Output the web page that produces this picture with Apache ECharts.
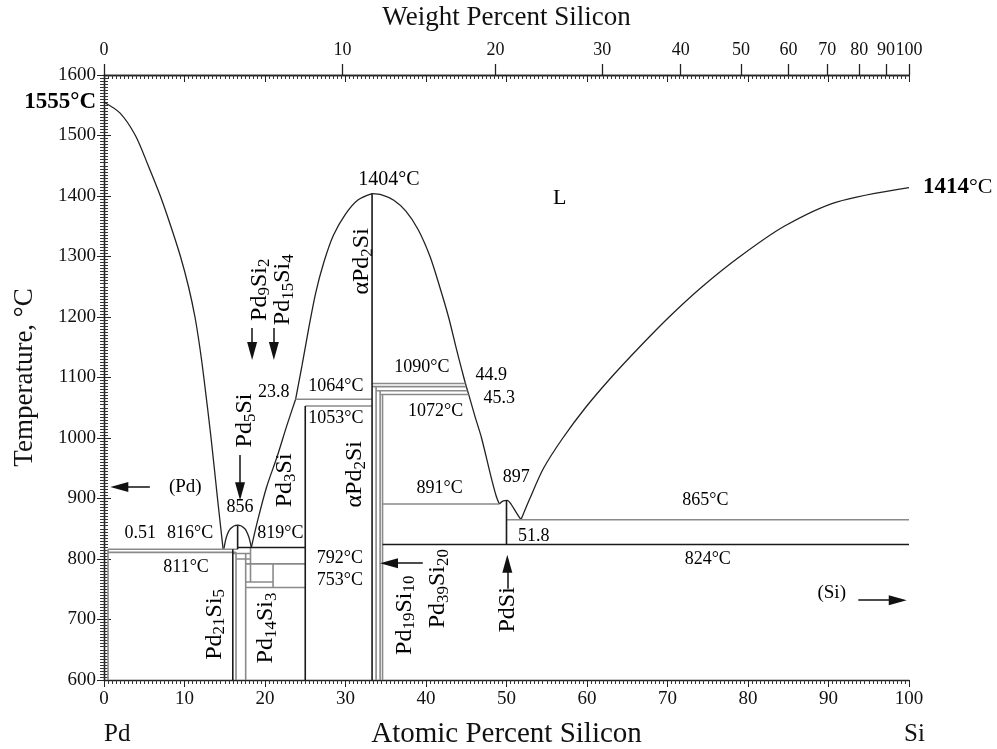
<!DOCTYPE html>
<html>
<head>
<meta charset="utf-8">
<script src="https://cdn.jsdelivr.net/npm/echarts@6/dist/echarts.min.js"></script>
<style>
  html, body { margin: 0; padding: 0; background: #fff; }
  #chart { width: 997px; height: 749px; }
</style>
</head>
<body>
<div id="chart"></div>
<script>
  // Pd-Si phase diagram (at.% Si vs temperature)
  const M_SI = 28.0855
  const M_PD = 106.42

  const wtTicks = [0, 10, 20, 30, 40, 50, 60, 70, 80, 90, 100]
  const tempRange = [600, 1600]

  // liquidus curves
  const liqPd = [[0, 1555], [2.0, 1537], [3.9, 1500], [5.5, 1450], [7.0, 1400], [8.3, 1350], [9.5, 1300],
    [10.5, 1250], [11.3, 1200], [11.9, 1150], [12.4, 1100], [13.3, 1000], [14.1, 900], [14.8, 816]]
  const dome856 = [[14.9, 817], [15.2, 836], [15.7, 850], [16.6, 856], [17.5, 850], [18.0, 836], [18.3, 819]]
  const liqPd3Si = [[18.3, 819], [19.0, 859], [20.2, 919], [21.5, 969], [22.7, 1020], [23.8, 1064]]
  const liqPd2SiL = [[23.8, 1064], [24.6, 1120], [25.4, 1179], [26.3, 1240], [27.3, 1290], [28.5, 1335],
    [30, 1370], [31.5, 1393], [33.3, 1404]]
  const liqPd2SiR = [[33.3, 1404], [34.5, 1402], [36, 1393], [37.5, 1375], [39, 1345], [40.5, 1300],
    [41.7, 1250], [42.8, 1200], [43.8, 1146], [44.5, 1110], [44.9, 1090], [45.3, 1072], [46.1, 1035],
    [46.9, 1000], [48.0, 940], [48.7, 905], [49.1, 891]]
  const domePdSi = [[49.1, 891], [49.6, 896], [50.1, 897], [50.6, 890], [51.2, 877], [51.8, 865]]
  const liqSi = [[51.8, 865], [52.9, 900], [54.6, 950], [57.0, 1000], [59.8, 1050], [63.0, 1100],
    [66.5, 1150], [70.2, 1200], [74.3, 1250], [79.0, 1300], [84.5, 1350], [91.0, 1390], [100, 1414]]

  // isotherms and phase boundaries [x1, T1, x2, T2]
  const darkLines = [
    [16.6, 819, 25, 819], [34.6, 824, 100, 824], [16.0, 816, 16.0, 600], [25, 1053, 25, 600],
    [33.3, 1404, 33.3, 600], [16.6, 856, 16.6, 816], [50, 897, 50, 824]
  ]
  const greyLines = [
    [0.5, 816, 16.6, 816], [0.5, 811, 16.4, 811], [0.5, 816, 0.5, 600],
    [16.0, 809, 18.2, 809], [16.4, 800, 18.2, 800], [18.2, 819, 18.2, 762],
    [17.6, 792, 25, 792], [17.6, 762, 21, 762], [17.6, 753, 25, 753], [21, 792, 21, 753],
    [17.6, 809, 17.6, 600], [16.4, 811, 16.4, 600],
    [23.8, 1064, 33.3, 1064], [25, 1053, 33.3, 1053],
    [33.3, 1090, 44.9, 1090], [33.3, 1085, 45.0, 1085], [33.8, 1078, 45.15, 1078], [34.3, 1072, 45.3, 1072],
    [33.8, 1085, 33.8, 600], [34.3, 1078, 34.3, 600], [34.6, 1072, 34.6, 600],
    [34.6, 891, 49.1, 891], [50, 865, 100, 865]
  ]

  // annotation arrows [from, to]
  const arrows = [
    [[5.7, 919], [1.9, 919]], [[18.4, 1182], [18.4, 1144]], [[21.1, 1182], [21.1, 1144]],
    [[16.9, 972], [16.9, 912]], [[39.6, 793], [35.4, 793]], [[50.1, 751], [50.1, 792]],
    [[93.7, 732], [98.6, 732]]
  ]

  // text notes [x, T, text, rotate, size]
  const notes = [
    [35.4, 1427, '1404°C', 0, 20], [56.6, 1397, 'L', 0, 22],
    [39.5, 1117, '1090°C', 0, 18], [48.1, 1104, '44.9', 0, 18], [49.1, 1065, '45.3', 0, 18],
    [28.8, 1086, '1064°C', 0, 18], [21.1, 1076, '23.8', 0, 18], [28.8, 1032, '1053°C', 0, 18],
    [41.2, 1045, '1072°C', 0, 18],
    [32.0, 1292, 'αPd{s|2}Si', 90, 24], [31.2, 940, 'αPd{s|2}Si', 90, 24],
    [19.3, 1245, 'Pd{s|9}Si{s|2}', 90, 24], [22.2, 1245, 'Pd{s|15}Si{s|4}', 90, 24],
    [17.5, 1029, 'Pd{s|5}Si', 90, 24], [22.5, 930, 'Pd{s|3}Si', 90, 24],
    [16.9, 886, '856', 0, 18], [10.7, 843, '816°C', 0, 18], [4.5, 843, '0.51', 0, 18],
    [21.9, 843, '819°C', 0, 18], [10.2, 786, '811°C', 0, 18], [10.1, 919, '(Pd)', 0, 19],
    [29.3, 801, '792°C', 0, 18], [29.3, 765, '753°C', 0, 18],
    [13.7, 692, 'Pd{s|21}Si{s|5}', 90, 24], [20.1, 686, 'Pd{s|14}Si{s|3}', 90, 24],
    [37.3, 707, 'Pd{s|19}Si{s|10}', 90, 24], [41.5, 751, 'Pd{s|39}Si{s|20}', 90, 24],
    [50.1, 716, 'PdSi', 90, 24],
    [41.7, 917, '891°C', 0, 18], [51.2, 935, '897', 0, 18], [74.7, 897, '865°C', 0, 18],
    [53.4, 838, '51.8', 0, 18], [75.0, 799, '824°C', 0, 18], [90.4, 743, '(Si)', 0, 19]
  ]

  const FONT = 'Liberation Serif'
  const INK = '#000'

  const toAt = w => {
    const a = w / M_SI, b = (100 - w) / M_PD
    return 100 * a / (a + b)
  }
  const toWt = x => {
    const a = x * M_SI, b = (100 - x) * M_PD
    return 100 * a / (a + b)
  }

  const rich = {
    s: {fontFamily: FONT, fontSize: 17, color: INK, padding: [11, 0, 0, 0]},
    b: {fontFamily: FONT, fontSize: 23, fontWeight: 'bold', color: INK},
    n: {fontFamily: FONT, fontSize: 22, color: INK}
  }

  function curve(data) {
    return {
      type: 'line', data: data, showSymbol: false, symbol: 'none', smooth: 0.3,
      silent: true, animation: false, lineStyle: {color: '#222', width: 1.3}
    }
  }
  function seg(s, color, width) {
    return {
      type: 'line', data: [[s[0], s[1]], [s[2], s[3]]], showSymbol: false, symbol: 'none',
      silent: true, animation: false, lineStyle: {color: color, width: width}
    }
  }

  const series = []
  ;[liqPd, dome856, liqPd3Si, liqPd2SiL, liqPd2SiR, domePdSi, liqSi].forEach(c => series.push(curve(c)))
  greyLines.forEach(s => series.push(seg(s, '#8a8a8a', 1.6)))
  darkLines.forEach(s => series.push(seg(s, '#1a1a1a', 1.6)))

  series[0].markLine = {
    silent: true, animation: false, symbol: ['none', 'triangle'], symbolSize: [10, 18],
    lineStyle: {color: '#111', width: 1.5, type: 'solid'}, label: {show: false},
    data: arrows.map(a => [{coord: a[0]}, {coord: a[1]}])
  }

  const labelBase = {
    show: true, opacity: 1, textBorderWidth: 0, textShadowBlur: 0,
    fontFamily: FONT, color: INK, rich: rich
  }

  series.push({
    type: 'scatter', symbolSize: 0, clip: false, silent: true, animation: false,
    itemStyle: {opacity: 0},
    emphasis: {disabled: true},
    label: Object.assign({position: 'inside'}, labelBase),
    data: notes.map(n => ({
      value: [n[0], n[1]],
      label: {formatter: n[2], rotate: n[3], fontSize: n[4]}
    }))
  })

  // bold melting points at the frame edges
  series.push({
    type: 'scatter', symbolSize: 0, clip: false, silent: true, animation: false,
    itemStyle: {opacity: 0},
    emphasis: {disabled: true},
    label: labelBase,
    data: [
      {value: [0, 1555], label: {position: 'left', distance: 8, formatter: '{b|1555°C}'}},
      {value: [100, 1414], label: {position: 'right', distance: 14, formatter: '{b|1414}{n|°C}'}}
    ]
  })

  const tickFont = {fontFamily: FONT, fontSize: 19, color: '#111'}
  const axisLine = {lineStyle: {color: '#222', width: 1.3}}
  const titleFont = {fontFamily: FONT, fontSize: 27, color: '#111'}

  const option = {
    backgroundColor: '#fff',
    animation: false,
    grid: {left: 104, right: 88, top: 75, bottom: 69, containLabel: false, outerBoundsMode: 'none'},
    xAxis: [
      {
        type: 'value', min: 0, max: 100, interval: 10, position: 'bottom',
        axisLine: axisLine, splitLine: {show: false},
        axisTick: {show: true, length: 7, lineStyle: {color: '#222'}},
        minorTick: {show: true, splitNumber: 20, length: 4, lineStyle: {color: '#333'}},
        axisLabel: Object.assign({margin: 10}, tickFont),
        name: 'Atomic Percent Silicon', nameLocation: 'middle', nameGap: 40,
        nameTextStyle: {fontFamily: FONT, fontSize: 29, color: '#111'}
      },
      {
        type: 'value', min: 0, max: 100, interval: 10, position: 'top', offset: 0,
        axisLine: axisLine, splitLine: {show: false},
        axisTick: {show: true, inside: true, length: 7, lineStyle: {color: '#222'}},
        minorTick: {show: true, splitNumber: 20, length: 4, lineStyle: {color: '#333'}},
        axisLabel: {show: false}
      },
      {
        type: 'value', min: 0, max: 100, position: 'top', offset: 0,
        axisLine: axisLine, splitLine: {show: false},
        axisTick: {show: true, length: 11, customValues: wtTicks.map(toAt), lineStyle: {color: '#222', width: 1.3}},
        axisLabel: {
          margin: 16, customValues: wtTicks.map(toAt), hideOverlap: false,
          fontFamily: FONT, fontSize: 18, color: '#111',
          formatter: v => String(Math.round(toWt(v)))
        },
        name: 'Weight Percent Silicon', nameLocation: 'middle', nameGap: 44,
        nameTextStyle: titleFont
      }
    ],
    yAxis: [
      {
        type: 'value', min: tempRange[0], max: tempRange[1], interval: 100, position: 'left',
        axisLine: axisLine, splitLine: {show: false},
        axisTick: {show: true, length: 7, lineStyle: {color: '#222'}},
        minorTick: {show: true, splitNumber: 20, length: 4, lineStyle: {color: '#333'}},
        axisLabel: Object.assign({margin: 8, formatter: v => String(v)}, tickFont),
        name: 'Temperature, °C', nameLocation: 'middle', nameGap: 66,
        nameTextStyle: titleFont
      },
      {
        type: 'value', min: tempRange[0], max: tempRange[1], interval: 100, position: 'right',
        axisLine: axisLine, splitLine: {show: false},
        axisTick: {show: true, length: 7, lineStyle: {color: '#222'}},
        minorTick: {show: true, splitNumber: 20, length: 4, lineStyle: {color: '#333'}},
        axisLabel: {show: false}
      }
    ],
    graphic: [
      {type: 'text', left: 104, top: 722, style: {text: 'Pd', fontFamily: FONT, fontSize: 25, fill: '#111'}},
      {type: 'text', left: 904, top: 722, style: {text: 'Si', fontFamily: FONT, fontSize: 25, fill: '#111'}}
    ],
    series: series
  }

  const chart = echarts.init(document.getElementById('chart'))
  chart.setOption(option)
</script>
</body>
</html>
